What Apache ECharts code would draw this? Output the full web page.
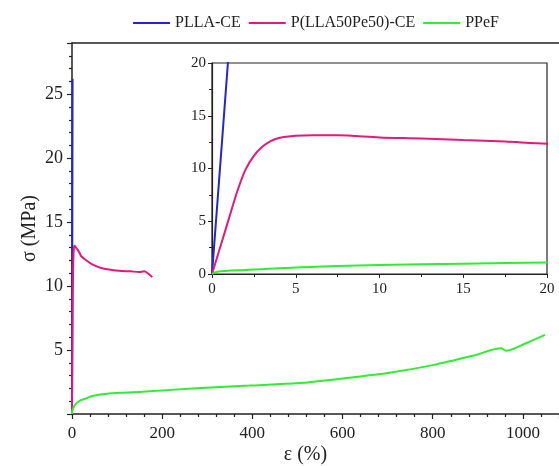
<!DOCTYPE html>
<html>
<head>
<meta charset="utf-8">
<script src="https://cdn.jsdelivr.net/npm/echarts@6/dist/echarts.min.js"></script>
<style>
  html, body { margin: 0; padding: 0; background: #fff; }
  #chart { width: 559px; height: 466px; }
</style>
</head>
<body>
<div id="chart"></div>
<script>
// series names, as in the legend
const seriesNames = ['PLLA-CE', 'P(LLA50Pe50)-CE', 'PPeF'];

// strain (%) / stress (MPa)
const strainPLLA = [0, 0.5, 0.95, 1.25];
const stressPLLA = [0, 10.5, 20, 26.2];

const strainBlend = [0, 0.5, 1, 1.5, 2, 2.5, 3, 3.5, 4, 5, 6, 7.5, 10, 12.5, 15, 17.5, 20,
  30, 45, 67, 104, 130, 149, 160, 168, 178];
const stressBlend = [0, 2.6, 5.2, 7.8, 9.9, 11.2, 12.05, 12.6, 12.9, 13.1, 13.15, 13.15, 12.95, 12.85, 12.7, 12.55, 12.35,
  12.06, 11.7, 11.4, 11.2, 11.15, 11.1, 11.15, 11.0, 10.7];

const strainPPeF = [0, 0.3, 2, 5, 10, 15, 20, 30, 45, 82, 156, 267, 393, 504, 600, 704, 800, 889, 952, 962, 1008, 1049];
const stressPPeF = [0, 0.22, 0.38, 0.62, 0.85, 0.98, 1.08, 1.2, 1.41, 1.6, 1.73, 2.0, 2.22, 2.42, 2.78, 3.22, 3.82, 4.55, 5.13, 4.95, 5.55, 6.18];

const colors = ['#2424d8', '#e5197c', '#2eee2e'];

const zip = (xs, ys) => xs.map((x, i) => [x, ys[i]]);
const curves = [zip(strainPLLA, stressPLLA), zip(strainBlend, stressBlend), zip(strainPPeF, stressPPeF)];

const FONT = '"Liberation Serif", "Times New Roman", serif';

const chart = echarts.init(document.getElementById('chart'));

const series = [];
[0, 1].forEach(g => {
  curves.forEach((d, i) => {
    series.push({
      name: seriesNames[i],
      type: 'line',
      xAxisIndex: g === 0 ? 0 : 2,
      yAxisIndex: g,
      data: d,
      showSymbol: false,
      smooth: 0.3,
      clip: true,
      lineStyle: { color: colors[i], width: 2 },
      itemStyle: { color: colors[i] },
      silent: true,
      z: 3 + g * 10
    });
  });
});

chart.setOption({
  animation: false,
  backgroundColor: '#fff',
  legend: {
    data: seriesNames,
    left: 133,
    top: 15,
    padding: 0,
    icon: 'rect',
    itemWidth: 37,
    itemHeight: 2,
    itemGap: 8,
    textStyle: { fontFamily: FONT, fontSize: 16, color: '#222', padding: [0, 0, 0, 0] }
  },
  grid: [
    { left: 72, top: 43, right: 0, bottom: 52, outerBoundsMode: 'none' },
    { left: 212, top: 63, right: 12, bottom: 192, outerBoundsMode: 'none', show: true, borderColor: '#222', borderWidth: 1.2, backgroundColor: '#fff', z: 10 }
  ],
  xAxis: [
    {
      gridIndex: 0, type: 'value', min: 0, max: 1080, interval: 200,
      name: 'ε (%)', nameLocation: 'middle', nameGap: 31, nameMoveOverlap: false,
      nameTextStyle: { fontFamily: FONT, fontSize: 20, color: '#222', padding: [0, 20, 0, 0] },
      axisLine: { lineStyle: { color: '#222', width: 1.5 } },
      axisTick: { length: 5, lineStyle: { color: '#222', width: 1.2 } },
      minorTick: { show: true, splitNumber: 5, length: 3, lineStyle: { color: '#222', width: 1.2 } },
      splitLine: { show: false },
      axisLabel: { fontFamily: FONT, fontSize: 17, color: '#222', margin: 11, showMaxLabel: false, formatter: v => String(v) }
    },
    {
      gridIndex: 0, type: 'value', position: 'top', min: 0, max: 1080,
      axisLine: { onZero: false, lineStyle: { color: '#222', width: 1.5 } },
      axisTick: { show: false }, axisLabel: { show: false }, splitLine: { show: false }
    },
    {
      gridIndex: 1, type: 'value', min: 0, max: 20, interval: 5,
      axisLine: { lineStyle: { color: '#222', width: 1.2 } },
      axisTick: { length: 4, lineStyle: { color: '#222' } },
      minorTick: { show: true, splitNumber: 2, length: 3, lineStyle: { color: '#222' } },
      splitLine: { show: false },
      axisLabel: { fontFamily: FONT, fontSize: 15, color: '#222', margin: 8 },
      z: 12
    }
  ],
  yAxis: [
    {
      gridIndex: 0, type: 'value', min: 0, max: 29, interval: 5,
      name: 'σ (MPa)', nameLocation: 'middle', nameGap: 32, nameMoveOverlap: false,
      nameTextStyle: { fontFamily: FONT, fontSize: 20, color: '#222' },
      axisLine: { lineStyle: { color: '#222', width: 1.5 } },
      axisTick: { length: 5, lineStyle: { color: '#222', width: 1.2 } },
      minorTick: { show: true, splitNumber: 5, length: 3, lineStyle: { color: '#222', width: 1.2 } },
      splitLine: { show: false },
      axisLabel: { fontFamily: FONT, fontSize: 18, color: '#222', margin: 9, showMinLabel: false, showMaxLabel: false }
    },
    {
      gridIndex: 1, type: 'value', min: 0, max: 20, interval: 5,
      axisLine: { lineStyle: { color: '#222', width: 1.2 } },
      axisTick: { length: 4, lineStyle: { color: '#222' } },
      minorTick: { show: true, splitNumber: 2, length: 3, lineStyle: { color: '#222' } },
      splitLine: { show: false },
      axisLabel: { fontFamily: FONT, fontSize: 15, color: '#222', margin: 6 },
      z: 12
    }
  ],
  series: series
});
</script>
</body>
</html>
